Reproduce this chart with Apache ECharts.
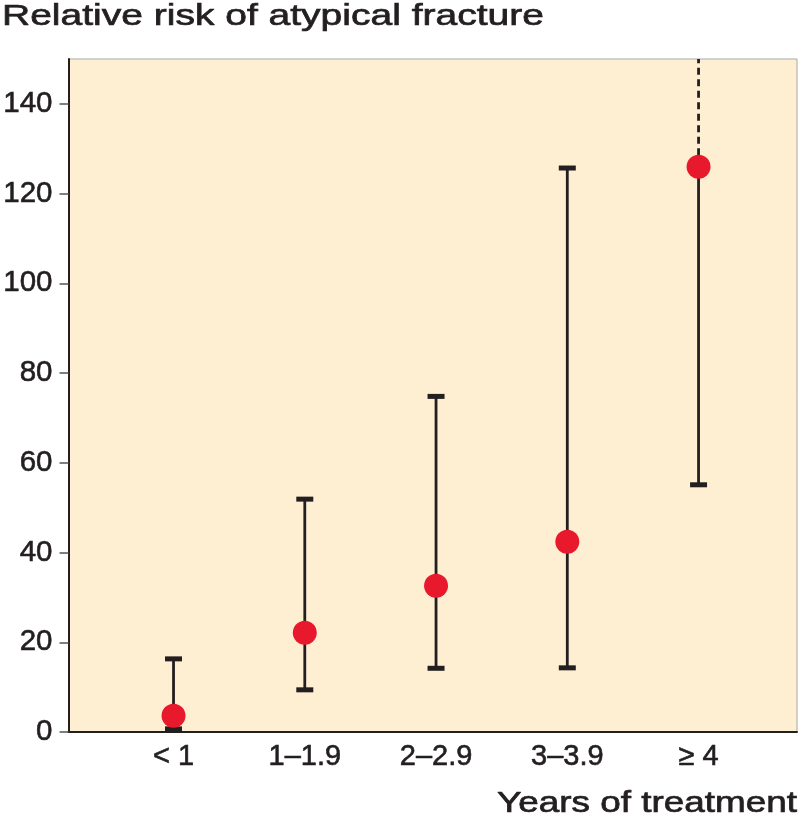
<!DOCTYPE html>
<html>
<head>
<meta charset="utf-8">
<script src="https://cdn.jsdelivr.net/npm/echarts@6/dist/echarts.min.js"></script>
<style>html,body{margin:0;padding:0;background:#fff}#c{width:800px;height:816px}</style>
</head>
<body>
<div id="c"></div>
<script>
var categories = ['< 1', '1\u20131.9', '2\u20132.9', '3\u20133.9', '\u2265 4'];
var estimate = [3.6, 22.1, 32.6, 42.4, 126];
var lowerCI = [0.7, 9.4, 14.2, 14.3, 55.1];
var upperCI = [16.3, 51.9, 74.8, 125.7, null];
var yTicks = [0, 20, 40, 60, 80, 100, 120, 140];
var yMax = 150;
var titleText = 'Relative risk of atypical fracture';
var xAxisTitle = 'Years of treatment';

var positions = categories.map(function (c, i) { return i + 1; });
var barData = positions.map(function (p, i) {
  return [p, lowerCI[i], upperCI[i] == null ? yMax : upperCI[i], estimate[i], upperCI[i] == null ? 1 : 0];
});
var pointData = positions.map(function (p, i) { return [p, estimate[i]]; });

var FONT = 'Liberation Sans, Arial, Helvetica, sans-serif';
var INK = '#231F20';

var chart = echarts.init(document.getElementById('c'), null, { renderer: 'canvas' });
chart.setOption({
  animation: false,
  backgroundColor: '#ffffff',
  graphic: [
    {
      type: 'text', x: 2, y: 2, scaleX: 1.3, scaleY: 1,
      style: { text: titleText, fontFamily: FONT, fontSize: 30, fill: INK, stroke: INK, lineWidth: 0.7, align: 'left', verticalAlign: 'top' }
    },
    {
      type: 'text', x: 797, y: 789, scaleX: 1.25, scaleY: 1,
      style: { text: xAxisTitle, fontFamily: FONT, fontSize: 29.5, fill: INK, stroke: INK, lineWidth: 0.7, align: 'right', verticalAlign: 'top' }
    }
  ],
  grid: {
    left: 68, top: 59, right: 3, bottom: 84,
    show: true, backgroundColor: '#FEEFD2', borderColor: '#A8A8A8', borderWidth: 1
  },
  xAxis: {
    type: 'value', min: 0.2, max: 5.75,
    axisLine: { show: true, lineStyle: { color: INK, width: 2 } },
    axisTick: { show: false },
    splitLine: { show: false },
    axisLabel: {
      customValues: positions,
      margin: 10,
      fontFamily: FONT, fontSize: 29, color: INK,
      textBorderColor: INK, textBorderWidth: 0.6,
      formatter: function (v) { return categories[Math.round(v) - 1] || ''; }
    }
  },
  yAxis: {
    type: 'value', min: 0, max: yMax,
    axisLine: { show: true, lineStyle: { color: INK, width: 2 } },
    axisTick: { show: true, length: 9, customValues: yTicks, lineStyle: { color: '#555', width: 1.5 } },
    splitLine: { show: false },
    axisLabel: {
      customValues: yTicks,
      margin: 16,
      fontFamily: FONT, fontSize: 29.5, color: INK,
      textBorderColor: INK, textBorderWidth: 0.6
    }
  },
  series: [
    {
      type: 'custom',
      data: barData,
      z: 2,
      renderItem: function (params, api) {
        var x = api.value(0);
        var lo = api.coord([x, api.value(1)]);
        var hi = api.coord([x, api.value(2)]);
        var mid = api.coord([x, api.value(3)]);
        var open = api.value(4) === 1;
        var capW = 8.5, capH = 5;
        var children = [];
        if (open) {
          children.push({ type: 'line', shape: { x1: lo[0], y1: lo[1], x2: mid[0], y2: mid[1] }, style: { stroke: INK, lineWidth: 2.8 } });
          children.push({ type: 'line', shape: { x1: mid[0], y1: mid[1], x2: hi[0], y2: hi[1] }, style: { stroke: INK, lineWidth: 2.8, lineDash: [7, 4.5] } });
        } else {
          children.push({ type: 'line', shape: { x1: lo[0], y1: lo[1], x2: hi[0], y2: hi[1] }, style: { stroke: INK, lineWidth: 2.8 } });
          children.push({ type: 'rect', shape: { x: hi[0] - capW, y: hi[1] - capH / 2, width: capW * 2, height: capH }, style: { fill: INK } });
        }
        children.push({ type: 'rect', shape: { x: lo[0] - capW, y: lo[1] - capH / 2, width: capW * 2, height: capH }, style: { fill: INK } });
        return { type: 'group', children: children };
      }
    },
    {
      type: 'scatter',
      data: pointData,
      z: 3,
      symbol: 'circle',
      symbolSize: 24,
      itemStyle: { color: '#E8192C', opacity: 1 }
    }
  ]
});
</script>
</body>
</html>
